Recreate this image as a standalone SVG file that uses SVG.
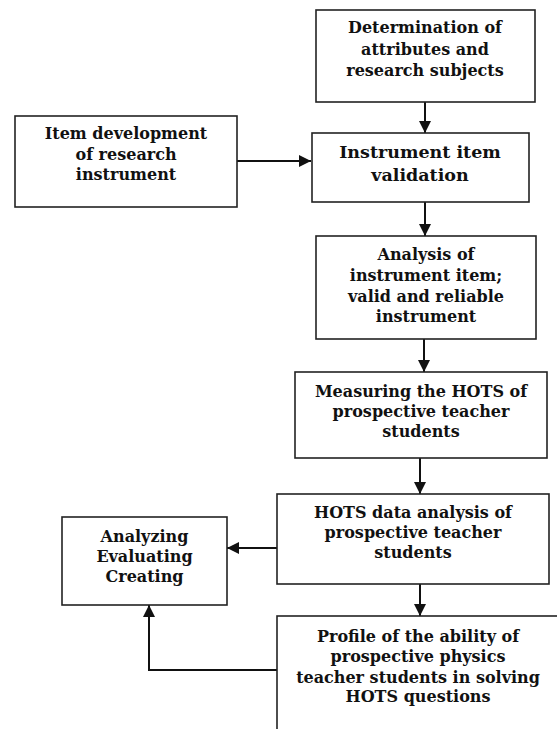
<svg xmlns="http://www.w3.org/2000/svg" width="557" height="729" viewBox="0 0 557 729">
<style>
.box{fill:#fff;stroke:#222;stroke-width:1.6}
.t{font-family:"DejaVu Serif","Liberation Serif",serif;font-weight:bold;font-size:16px;fill:#111;text-anchor:middle}
.big{font-size:17.5px}
.c{fill:none;stroke:#111;stroke-width:2}
</style>
<defs>
<marker id="ah" markerUnits="userSpaceOnUse" markerWidth="14" markerHeight="12" refX="12" refY="6" orient="auto">
<path d="M0,0 L12,6 L0,12 Z" fill="#111"/>
</marker>
</defs>
<rect width="557" height="729" fill="#fff"/>
<g id="connectors">
<line class="c" x1="425" y1="102" x2="425" y2="133" marker-end="url(#ah)"/>
<line class="c" x1="237" y1="161" x2="311" y2="161" marker-end="url(#ah)"/>
<line class="c" x1="425" y1="202" x2="425" y2="236" marker-end="url(#ah)"/>
<line class="c" x1="424" y1="339" x2="424" y2="372" marker-end="url(#ah)"/>
<line class="c" x1="420" y1="458" x2="420" y2="494" marker-end="url(#ah)"/>
<line class="c" x1="277" y1="548" x2="227" y2="548" marker-end="url(#ah)"/>
<line class="c" x1="420" y1="584" x2="420" y2="616" marker-end="url(#ah)"/>
<polyline class="c" points="277,670 149,670 149,605" marker-end="url(#ah)"/>
</g>
<g id="n1">
<rect class="box" x="316" y="10" width="219" height="92"/>
<text class="t" x="425" y="33">Determination of</text>
<text class="t" x="425" y="54.5">attributes and</text>
<text class="t" x="425" y="75.5">research subjects</text>
</g>
<g id="n0">
<rect class="box" x="15" y="116" width="222" height="91"/>
<text class="t" x="126" y="139">Item development</text>
<text class="t" x="126" y="160">of research</text>
<text class="t" x="126" y="180">instrument</text>
</g>
<g id="n2">
<rect class="box" x="312" y="133" width="217" height="69"/>
<text class="t big" x="420" y="158">Instrument item</text>
<text class="t big" x="420" y="181">validation</text>
</g>
<g id="n3">
<rect class="box" x="316" y="236" width="220" height="103"/>
<text class="t" x="426" y="260">Analysis of</text>
<text class="t" x="426" y="280.5">instrument item;</text>
<text class="t" x="426" y="301.5">valid and reliable</text>
<text class="t" x="426" y="321.5">instrument</text>
</g>
<g id="n4">
<rect class="box" x="295" y="372" width="252" height="86"/>
<text class="t" x="421" y="396.5">Measuring the HOTS of</text>
<text class="t" x="421" y="416.5">prospective teacher</text>
<text class="t" x="421" y="436.5">students</text>
</g>
<g id="n5">
<rect class="box" x="277" y="494" width="272" height="90"/>
<text class="t" x="413" y="518">HOTS data analysis of</text>
<text class="t" x="413" y="538">prospective teacher</text>
<text class="t" x="413" y="558">students</text>
</g>
<g id="n6">
<rect class="box" x="62" y="517" width="165" height="88"/>
<text class="t" x="144.5" y="541.5">Analyzing</text>
<text class="t" x="144.5" y="562">Evaluating</text>
<text class="t" x="144.5" y="581.5">Creating</text>
</g>
<g id="n7">
<rect class="box" x="277" y="616" width="300" height="150"/>
<text class="t" x="418" y="641.5">Profile of the ability of</text>
<text class="t" x="418" y="661.5">prospective physics</text>
<text class="t" x="418" y="683">teacher students in solving</text>
<text class="t" x="418" y="701.5">HOTS questions</text>
</g>
</svg>
